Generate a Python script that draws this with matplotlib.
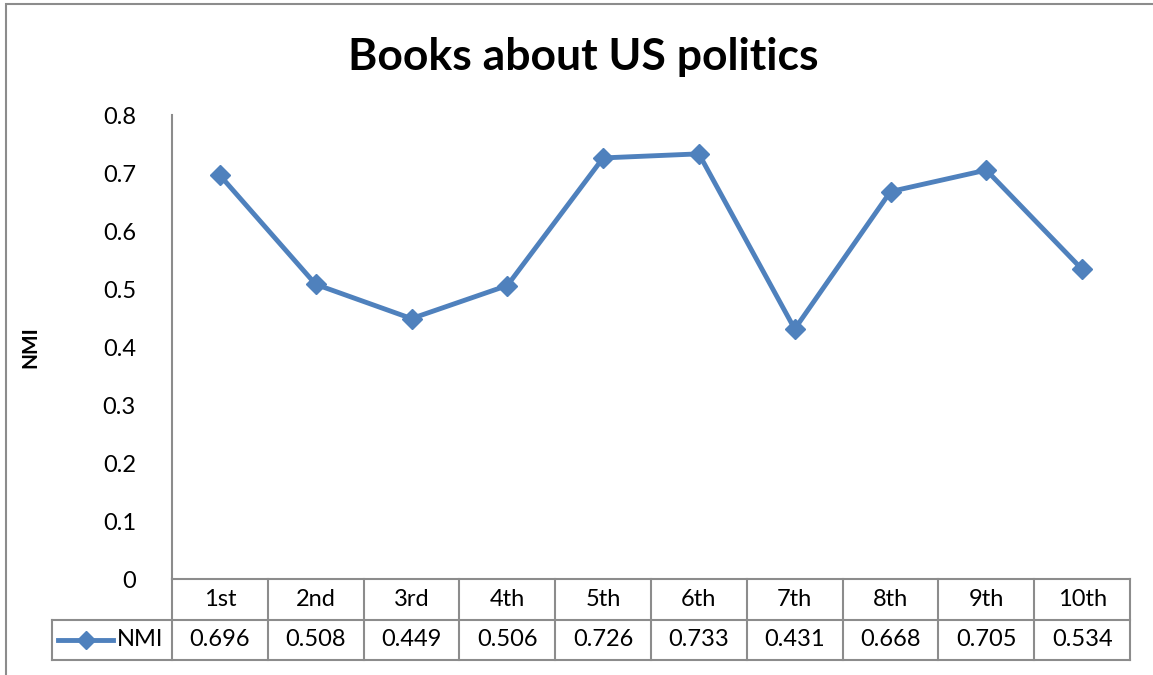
import matplotlib.pyplot as plt
from matplotlib.lines import Line2D
from matplotlib.patches import Rectangle

# data
labels = ["1st", "2nd", "3rd", "4th", "5th", "6th", "7th", "8th", "9th", "10th"]
nmi = [0.696, 0.508, 0.449, 0.506, 0.726, 0.733, 0.431, 0.668, 0.705, 0.534]
series_name = "NMI"

plt.rcParams['font.family'] = ['Lato', 'DejaVu Sans']
blue = "#4F81BD"
grey = "#8C8C8C"
fs = 17

W, H = 1153, 675
fig = plt.figure(figsize=(W / 100, H / 100), dpi=100)

# outer chart frame
fig.add_artist(Rectangle((6 / W, -0.01), 1.2, 1 - 4 / H + 0.01, transform=fig.transFigure,
                         fill=False, edgecolor=grey, lw=1.5))

x0, x1, ytop, ybot = 172, 1130, 115, 579
ax = fig.add_axes([x0 / W, 1 - ybot / H, (x1 - x0) / W, (ybot - ytop) / H])
ax.plot(range(len(nmi)), nmi, color=blue, lw=3.5, marker="D", markersize=10, clip_on=False)
ax.set_xlim(-0.5, len(nmi) - 0.5)
ax.set_ylim(0, 0.8)
ax.set_yticks([0, 0.1, 0.2, 0.3, 0.4, 0.5, 0.6, 0.7, 0.8])
ax.set_yticklabels(["0", "0.1", "0.2", "0.3", "0.4", "0.5", "0.6", "0.7", "0.8"], fontsize=fs)
ax.tick_params(axis="y", length=0, pad=26)
ax.set_xticks([])
for s in ["top", "right", "bottom"]:
    ax.spines[s].set_visible(False)
ax.spines["left"].set_color(grey)
ax.spines["left"].set_linewidth(1.5)

fig.text(0.506, 1 - 57 / H, "Books about US politics", ha="center", va="center",
         fontsize=32, fontweight="bold")
fig.text(30 / W, 1 - 347 / H, "NMI", rotation=90, ha="center", va="center",
         fontsize=15, fontweight="bold")

# data table below the axis
fx = lambda px: px / W
fy = lambda px: 1 - px / H
r0, r1, r2 = 579, 620, 660
kw = dict(transform=fig.transFigure, color=grey, lw=1.5)
fig.add_artist(Line2D([fx(x0), fx(x1)], [fy(r0), fy(r0)], **kw))
fig.add_artist(Line2D([fx(52), fx(x1)], [fy(r1), fy(r1)], **kw))
fig.add_artist(Line2D([fx(52), fx(x1)], [fy(r2), fy(r2)], **kw))
fig.add_artist(Line2D([fx(52), fx(52)], [fy(r1), fy(r2)], **kw))
colw = (x1 - x0) / len(labels)
for i in range(len(labels) + 1):
    xp = x0 + i * colw
    fig.add_artist(Line2D([fx(xp), fx(xp)], [fy(r0), fy(r2)], **kw))
for i, (lab, v) in enumerate(zip(labels, nmi)):
    xc = x0 + (i + 0.5) * colw
    fig.text(fx(xc), fy((r0 + r1) / 2), lab, ha="center", va="center", fontsize=fs)
    fig.text(fx(xc), fy((r1 + r2) / 2), f"{v:.3f}", ha="center", va="center", fontsize=fs)

# legend key in the table
fig.add_artist(Line2D([fx(58), fx(113)], [fy(640), fy(640)], color=blue, lw=3.5,
                      transform=fig.transFigure))
fig.add_artist(Line2D([fx(86)], [fy(640)], color=blue, marker="D", markersize=9,
                      transform=fig.transFigure))
fig.text(fx(117), fy(640), series_name, ha="left", va="center", fontsize=fs)

fig.savefig("out.png", dpi=100)
